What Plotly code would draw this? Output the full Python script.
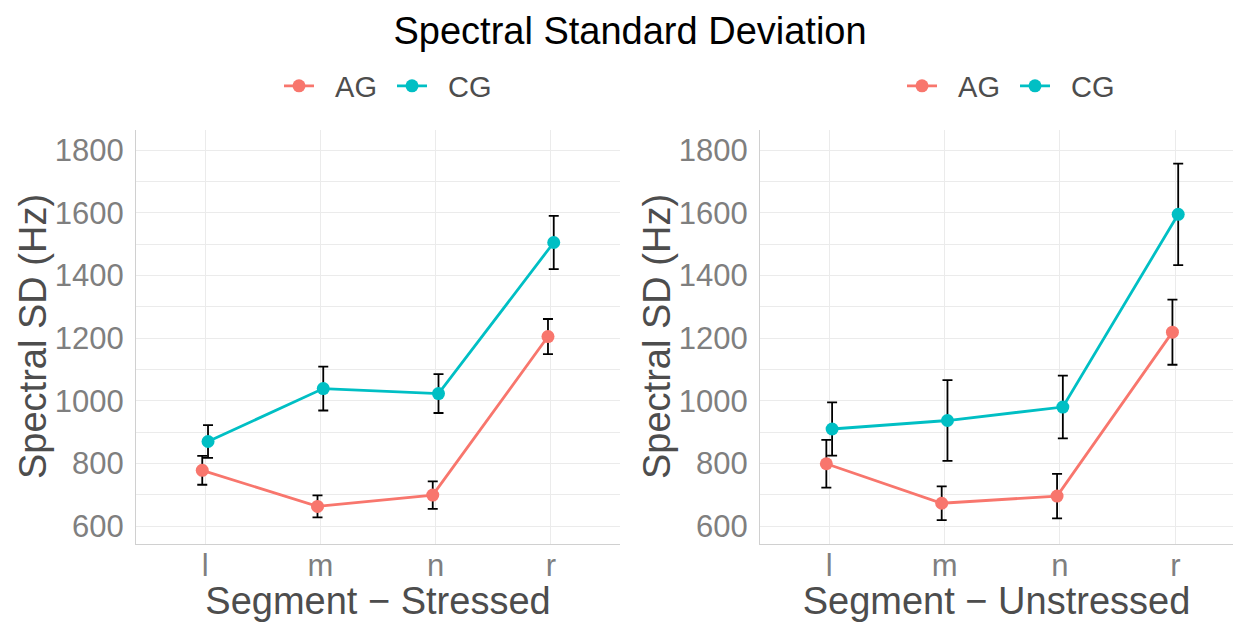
import plotly.graph_objects as go

categories = ["l", "m", "n", "r"]
groups = ["AG", "CG"]
colors = {"AG": "#F8766D", "CG": "#00BFC4"}

# Stressed panel
stressed_AG = [778, 663, 699, 1205]
stressed_AG_err = [46, 35, 44, 56]
stressed_CG = [870, 1039, 1023, 1505]
stressed_CG_err = [52, 70, 62, 85]

# Unstressed panel
unstressed_AG = [799, 673, 696, 1219]
unstressed_AG_err = [76, 54, 71, 104]
unstressed_CG = [910, 937, 980, 1595]
unstressed_CG_err = [85, 129, 100, 162]

y_ticks = [600, 800, 1000, 1200, 1400, 1600, 1800]

panels = [
    ("x", "y", "legend", {"AG": (stressed_AG, stressed_AG_err), "CG": (stressed_CG, stressed_CG_err)}),
    ("x2", "y2", "legend2", {"AG": (unstressed_AG, unstressed_AG_err), "CG": (unstressed_CG, unstressed_CG_err)}),
]

dodge = {"AG": -0.025, "CG": 0.025}
FONT = "Liberation Sans, Arial, sans-serif"
NB = "\u00a0"

fig = go.Figure()
for xa, ya, lg, data in panels:
    for g in groups:
        vals, errs = data[g]
        xs = [i + 1 + dodge[g] for i in range(len(categories))]
        fig.add_trace(go.Scatter(
            x=xs, y=vals, mode="lines+markers", name=NB * 2 + g,
            xaxis=xa, yaxis=ya, legend=lg,
            line=dict(color=colors[g], width=2.8),
            marker=dict(color=colors[g], size=13),
            error_y=dict(type="data", array=errs, visible=True,
                         color="black", thickness=1.8, width=5),
        ))

W, H = 1233, 622
ydom = [(622 - 544) / H, (622 - 130) / H]

def xaxis_cfg(dom, rng, title, anchor):
    return dict(
        domain=dom, range=rng, anchor=anchor, automargin=False,
        tickmode="array", tickvals=[1, 2, 3, 4], ticktext=categories,
        showgrid=True, gridcolor="#ebebeb", gridwidth=1.3,
        zeroline=False, showline=True, linecolor="#d0d0d0", linewidth=1.3,
        ticks="", ticklen=0, ticklabelstandoff=-6,
        tickfont=dict(size=31, color="#7f7f7f", family=FONT),
        title=dict(text=title, font=dict(size=38, color="#4d4d4d", family=FONT), standoff=2),
    )

def yaxis_cfg(anchor):
    return dict(
        domain=ydom, range=[543, 1864], anchor=anchor, automargin=False,
        tickmode="array", tickvals=y_ticks,
        showgrid=True, gridcolor="#ebebeb", gridwidth=1.3,
        minor=dict(tickmode="array", tickvals=[700, 900, 1100, 1300, 1500, 1700],
                   showgrid=True, gridcolor="#ebebeb", gridwidth=0.7, ticks=""),
        zeroline=False, showline=True, linecolor="#d0d0d0", linewidth=1.3,
        ticks="", ticklen=0, ticklabelstandoff=5,
        tickfont=dict(size=31, color="#7f7f7f", family=FONT),
    )

legend_common = dict(
    orientation="h", xanchor="center", yanchor="middle",
    font=dict(size=29, color="#4d4d4d", family=FONT),
    bgcolor="rgba(0,0,0,0)", itemwidth=30, tracegroupgap=0,
    entrywidth=68, entrywidthmode="pixels",
)

ytitle = "Spectral SD (Hz)"
annotations = [
    dict(text=ytitle, x=33 / W, y=1 - 337 / H, xref="paper", yref="paper",
         xanchor="center", yanchor="middle", textangle=-90, showarrow=False,
         font=dict(size=38, color="#4d4d4d", family=FONT)),
    dict(text=ytitle, x=657 / W, y=1 - 337 / H, xref="paper", yref="paper",
         xanchor="center", yanchor="middle", textangle=-90, showarrow=False,
         font=dict(size=38, color="#4d4d4d", family=FONT)),
]

fig.update_layout(
    width=W, height=H,
    margin=dict(l=0, r=0, t=0, b=0, autoexpand=False),
    paper_bgcolor="white", plot_bgcolor="white",
    font=dict(family=FONT),
    title=dict(text="Spectral Standard Deviation", x=0.511, xanchor="center",
               y=1 - 31 / H, yanchor="middle", automargin=False,
               font=dict(size=38, color="black", family=FONT)),
    xaxis=xaxis_cfg([136 / W, 620 / W], [0.4, 4.6], "Segment \u2212 Stressed", "y"),
    xaxis2=xaxis_cfg([760 / W, 1.0], [0.4, 4.5], "Segment \u2212 Unstressed", "y2"),
    yaxis=yaxis_cfg("x"),
    yaxis2=yaxis_cfg("x2"),
    legend=dict(x=392 / W, y=1 - 86 / H, **legend_common),
    legend2=dict(x=1015 / W, y=1 - 86 / H, **legend_common),
    annotations=annotations,
    showlegend=True,
)

fig.write_html("out.html", config={"displayModeBar": False},
               post_script="document.body.style.margin='0';document.body.style.overflow='hidden';")
